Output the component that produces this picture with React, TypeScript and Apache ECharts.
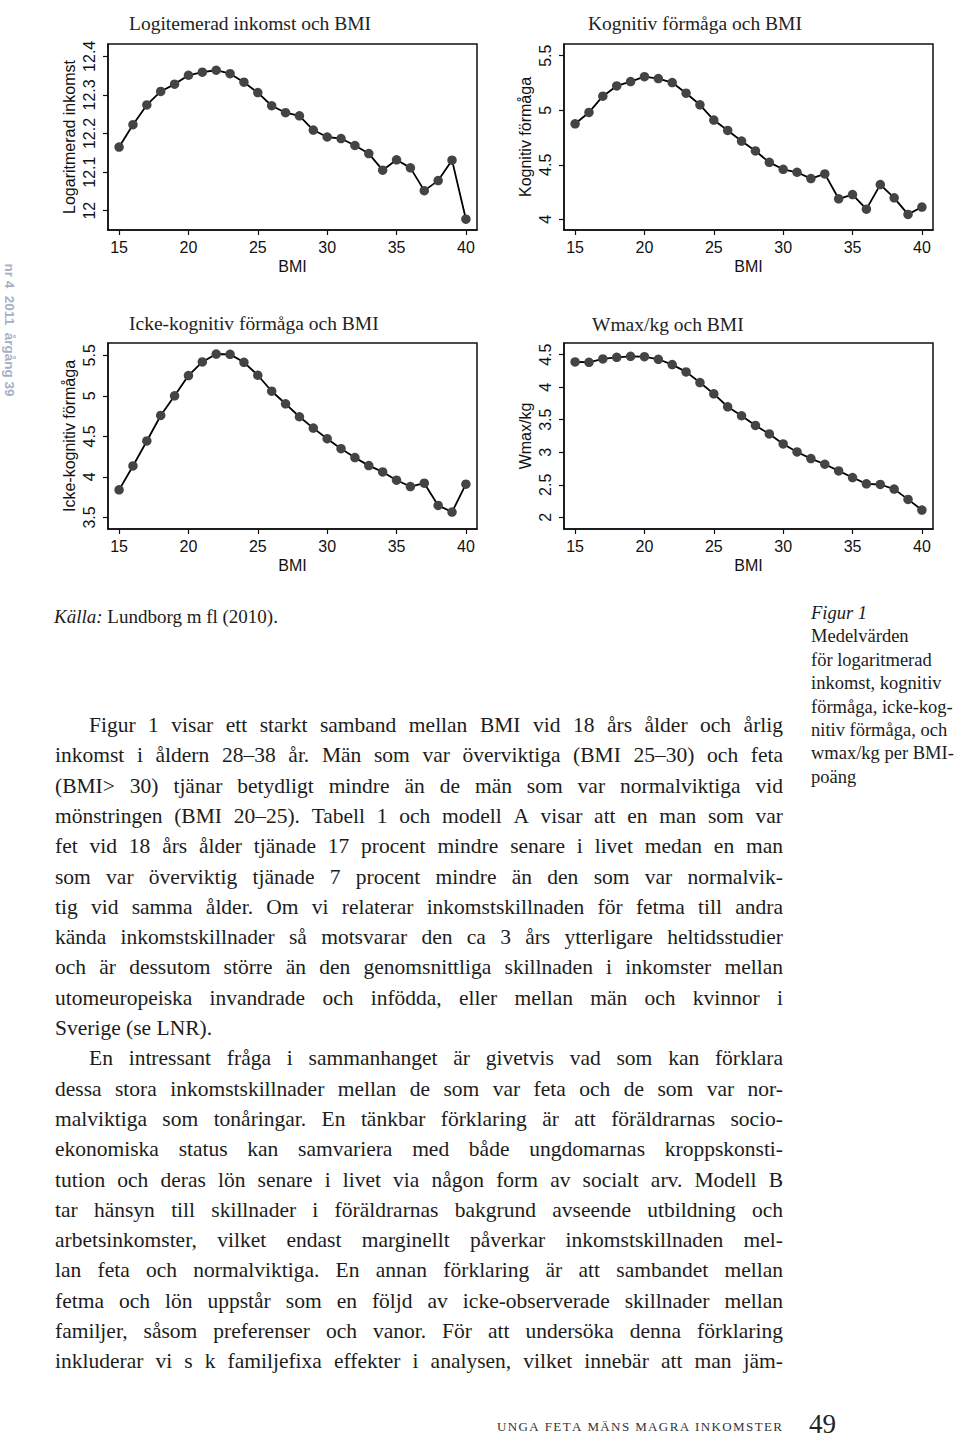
import React, { useEffect, useRef } from "react";
import * as echarts from "echarts";

// ---------- data ----------
const bmi = [15, 16, 17, 18, 19, 20, 21, 22, 23, 24, 25, 26, 27, 28, 29, 30, 31, 32, 33, 34, 35, 36, 37, 38, 39, 40];
const logIncome = [12.165, 12.223, 12.274, 12.309, 12.328, 12.351, 12.359, 12.364, 12.355, 12.333, 12.306, 12.272, 12.254, 12.246, 12.209, 12.191, 12.187, 12.169, 12.148, 12.105, 12.132, 12.111, 12.052, 12.078, 12.131, 11.978];
const cognitive = [4.876, 4.98, 5.129, 5.223, 5.263, 5.308, 5.29, 5.254, 5.156, 5.05, 4.91, 4.815, 4.718, 4.627, 4.523, 4.459, 4.432, 4.374, 4.417, 4.189, 4.228, 4.094, 4.319, 4.198, 4.046, 4.113];
const nonCognitive = [3.84, 4.135, 4.443, 4.758, 5.0, 5.25, 5.418, 5.516, 5.512, 5.414, 5.254, 5.057, 4.902, 4.742, 4.602, 4.471, 4.348, 4.238, 4.139, 4.061, 3.959, 3.881, 3.922, 3.648, 3.566, 3.91];
const wmaxKg = [4.388, 4.383, 4.434, 4.459, 4.474, 4.469, 4.429, 4.347, 4.235, 4.071, 3.898, 3.699, 3.561, 3.413, 3.281, 3.128, 3.005, 2.903, 2.816, 2.714, 2.612, 2.515, 2.505, 2.434, 2.276, 2.112];

const bmiTicks = [15, 20, 25, 30, 35, 40];
const incomeTicks = [12, 12.1, 12.2, 12.3, 12.4];
const cognitiveTicks = [4, 4.5, 5, 5.5];
const nonCognitiveTicks = [3.5, 4, 4.5, 5, 5.5];
const wmaxTicks = [2, 2.5, 3, 3.5, 4, 4.5];

const panelTitles = ["Logitemerad inkomst och BMI", "Kognitiv förmåga och BMI", "Icke-kognitiv förmåga och BMI", "Wmax/kg och BMI"];
const yNames = ["Logaritmerad inkomst", "Kognitiv förmåga", "Icke-kognitiv förmåga", "Wmax/kg"];
const xName = "BMI";

const sourceLabel = "Källa:";
const sourceText = "Lundborg m fl (2010).";
const captionHead = "Figur 1";
const captionLines = ["Medelvärden", "för logaritmerad", "inkomst, kognitiv", "förmåga, icke-kog-", "nitiv förmåga, och", "wmax/kg per BMI-", "poäng"];
const marginText = "nr 4  2011  årgång 39";
const footerText = "UNGA FETA MÄNS MAGRA INKOMSTER";
const pageNumber = "49";

const bodyLines = [
  "Figur 1 visar ett starkt samband mellan BMI vid 18 års ålder och årlig",
  "inkomst i åldern 28–38 år. Män som var överviktiga (BMI 25–30) och feta",
  "(BMI> 30) tjänar betydligt mindre än de män som var normalviktiga vid",
  "mönstringen (BMI 20–25). Tabell 1 och modell A visar att en man som var",
  "fet vid 18 års ålder tjänade 17 procent mindre senare i livet medan en man",
  "som var överviktig tjänade 7 procent mindre än den som var normalvik-",
  "tig vid samma ålder. Om vi relaterar inkomstskillnaden för fetma till andra",
  "kända inkomstskillnader så motsvarar den ca 3 års ytterligare heltidsstudier",
  "och är dessutom större än den genomsnittliga skillnaden i inkomster mellan",
  "utomeuropeiska invandrade och infödda, eller mellan män och kvinnor i",
  "Sverige (se LNR).",
  "En intressant fråga i sammanhanget är givetvis vad som kan förklara",
  "dessa stora inkomstskillnader mellan de som var feta och de som var nor-",
  "malviktiga som tonåringar. En tänkbar förklaring är att föräldrarnas socio-",
  "ekonomiska status kan samvariera med både ungdomarnas kroppskonsti-",
  "tution och deras lön senare i livet via någon form av socialt arv. Modell B",
  "tar hänsyn till skillnader i föräldrarnas bakgrund avseende utbildning och",
  "arbetsinkomster, vilket endast marginellt påverkar inkomstskillnaden mel-",
  "lan feta och normalviktiga. En annan förklaring är att sambandet mellan",
  "fetma och lön uppstår som en följd av icke-observerade skillnader mellan",
  "familjer, såsom preferenser och vanor. För att undersöka denna förklaring",
  "inkluderar vi s k familjefixa effekter i analysen, vilket innebär att man jäm-",
];
const indentedLines = [0, 11];
const raggedLines = [10];

const SERIF = "'Liberation Serif', 'Times New Roman', serif";
const SANS = "'Liberation Sans', Arial, sans-serif";

export default function App() {
  const ref = useRef<HTMLDivElement>(null);

  useEffect(() => {
    if (!ref.current) return;
    const chart = echarts.init(ref.current, undefined, { renderer: "svg" });

    const canvas = document.createElement("canvas");
    const ctx = canvas.getContext("2d")!;
    const measure = (t: string, font: string) => {
      ctx.font = font;
      return ctx.measureText(t).width;
    };

    const graphics: any[] = [];
    const txt = (text: string, x: number, y: number, font: string, fill = "#1c1c1c", align = "left", extra: any = {}) => {
      graphics.push({
        type: "text",
        x,
        y,
        silent: true,
        ...extra,
        style: { text, font, fill, align, verticalAlign: "middle" },
      });
    };

    // panel titles
    const titleFont = `19.5px ${SERIF}`;
    const titlePos = [
      [129, 23],
      [588, 23],
      [129, 323],
      [592, 324],
    ];
    panelTitles.forEach((t, i) => txt(t, titlePos[i][0], titlePos[i][1], titleFont, "#222"));

    // source
    const srcFontI = `italic 19px ${SERIF}`;
    const srcFont = `19px ${SERIF}`;
    txt(sourceLabel, 54, 616, srcFontI);
    txt(sourceText, 54 + measure(sourceLabel + " ", srcFontI), 616, srcFont);

    // caption
    const capFont = `18.5px ${SERIF}`;
    txt(captionHead, 811, 613, `italic 18.5px ${SERIF}`);
    captionLines.forEach((l, i) => txt(l, 811, 613 + 23.4 * (i + 1), capFont));

    // body text, justified
    const bodyFont = `21.5px ${SERIF}`;
    const left = 55;
    const right = 783;
    bodyLines.forEach((line, i) => {
      const yMid = 725 + 30.3 * i;
      const x0 = indentedLines.includes(i) ? 89 : left;
      if (raggedLines.includes(i)) {
        txt(line, x0, yMid, bodyFont);
        return;
      }
      const words = line.split(" ");
      const widths = words.map((w) => measure(w, bodyFont));
      const total = widths.reduce((a, b) => a + b, 0);
      const gap = (right - x0 - total) / (words.length - 1);
      let x = x0;
      words.forEach((w, j) => {
        txt(w, x, yMid, bodyFont);
        x += widths[j] + gap;
      });
    });

    // footer with tracking
    const footFont = `13px ${SERIF}`;
    const chars = footerText.split("");
    const cw = chars.map((c) => measure(c, footFont));
    const natural = cw.reduce((a, b) => a + b, 0);
    const fx0 = 497;
    const fx1 = 782;
    const track = (fx1 - fx0 - natural) / (chars.length - 1);
    let fx = fx0;
    chars.forEach((c, j) => {
      if (c !== " ") txt(c, fx, 1426, footFont, "#333");
      fx += cw[j] + track;
    });
    txt(pageNumber, 809, 1424, `27px ${SERIF}`, "#222");

    // margin vertical text
    graphics.push({
      type: "text",
      x: 9,
      y: 330,
      rotation: -Math.PI / 2,
      silent: true,
      style: {
        text: marginText,
        font: `bold 13.5px ${SANS}`,
        fill: "#a6b0c4",
        align: "center",
        verticalAlign: "middle",
      },
    });

    const grids = [
      { left: 108, top: 44, width: 369, height: 186 },
      { left: 564, top: 44, width: 369, height: 186 },
      { left: 108, top: 343, width: 369, height: 186 },
      { left: 564, top: 343, width: 369, height: 186 },
    ].map((g) => ({ ...g, show: true, borderColor: "#111", borderWidth: 1.5, backgroundColor: "transparent" }));

    const yRanges = [
      [11.95, 12.432],
      [3.903, 5.607],
      [3.357, 5.652],
      [1.821, 4.679],
    ];
    const yTicks = [incomeTicks, cognitiveTicks, nonCognitiveTicks, wmaxTicks];
    const seriesData = [logIncome, cognitive, nonCognitive, wmaxKg];

    const axisText = { fontFamily: SANS, fontSize: 16, color: "#111" };

    const xAxis = grids.map((_, i) => ({
      type: "value",
      gridIndex: i,
      min: 14.2,
      max: 40.8,
      name: xName,
      nameLocation: "middle",
      nameGap: 28,
      nameTextStyle: axisText,
      axisLine: { show: true, onZero: false, lineStyle: { color: "#111", width: 1.5 } },
      axisTick: { show: true, inside: false, length: 5, customValues: bmiTicks, lineStyle: { color: "#111", width: 1.2 } },
      axisLabel: { customValues: bmiTicks, margin: 9, ...axisText },
      splitLine: { show: false },
    }));

    const yAxis = grids.map((_, i) => ({
      type: "value",
      gridIndex: i,
      min: yRanges[i][0],
      max: yRanges[i][1],
      name: yNames[i],
      nameLocation: "middle",
      nameGap: 31,
      nameTextStyle: axisText,
      axisLine: { show: true, onZero: false, lineStyle: { color: "#111", width: 1.5 } },
      axisTick: { show: true, inside: false, length: 5, customValues: yTicks[i], lineStyle: { color: "#111", width: 1.2 } },
      axisLabel: {
        customValues: yTicks[i],
        rotate: 90,
        margin: 11,
        formatter: (v: number) => String(Math.round(v * 10) / 10),
        ...axisText,
      },
      splitLine: { show: false },
    }));

    const series = seriesData.map((vals, i) => ({
      type: "line",
      xAxisIndex: i,
      yAxisIndex: i,
      data: bmi.map((b, j) => [b, vals[j]]),
      symbol: "circle",
      symbolSize: 9.5,
      showAllSymbol: true,
      itemStyle: { color: "#444" },
      lineStyle: { color: "#000", width: 1.8 },
      emphasis: { disabled: true },
    }));

    chart.setOption({
      animation: false,
      backgroundColor: "#ffffff",
      grid: grids,
      xAxis,
      yAxis,
      series,
      graphic: graphics,
    });

    return () => chart.dispose();
  }, []);

  return <div ref={ref} style={{ position: "absolute", left: 0, top: 0, width: 960, height: 1440 }} />;
}
